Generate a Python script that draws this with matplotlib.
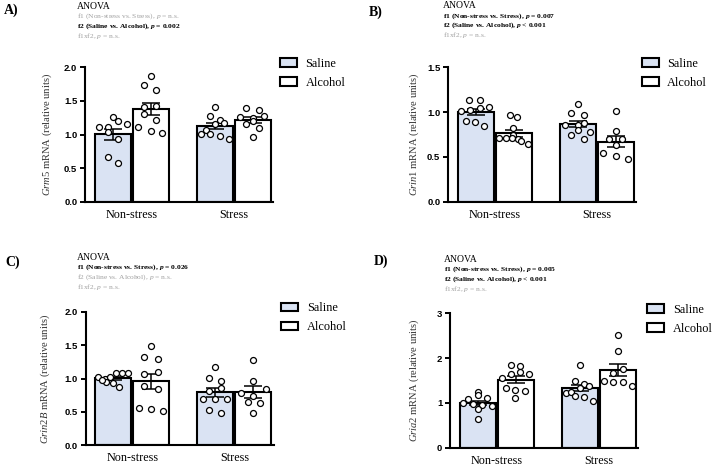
import matplotlib
matplotlib.use("Agg")
import matplotlib.pyplot as plt
import numpy as np

plt.rcParams["font.family"] = "Liberation Serif"
plt.rcParams["mathtext.fontset"] = "custom"
plt.rcParams["mathtext.rm"] = "Liberation Serif"
plt.rcParams["mathtext.it"] = "Liberation Serif:italic"
plt.rcParams["mathtext.bf"] = "Liberation Serif:bold"
plt.rcParams["mathtext.bfit"] = "Liberation Serif:italic:bold"

conditions = ["Non-stress", "Stress"]
treatments = ["Saline", "Alcohol"]

# A) Grm5
grm5_ns_saline = [1.26, 1.20, 1.11, 1.11, 1.15, 1.03, 0.93, 0.67, 0.57]
grm5_ns_alcohol = [1.87, 1.73, 1.66, 1.41, 1.43, 1.30, 1.21, 1.11, 1.05, 1.02]
grm5_s_saline = [1.41, 1.28, 1.22, 1.17, 1.15, 1.07, 1.01, 1.01, 0.98, 0.93]
grm5_s_alcohol = [1.40, 1.36, 1.26, 1.25, 1.28, 1.16, 1.20, 1.09, 0.96]

# B) Grin1
grin1_ns_saline = [1.13, 1.13, 1.01, 1.02, 1.05, 1.06, 0.90, 0.89, 0.85]
grin1_ns_alcohol = [0.97, 0.94, 0.82, 0.74, 0.71, 0.71, 0.71, 0.70, 0.68, 0.64]
grin1_s_saline = [1.09, 0.99, 0.97, 0.86, 0.86, 0.88, 0.80, 0.78, 0.75, 0.70]
grin1_s_alcohol = [1.01, 0.79, 0.70, 0.70, 0.63, 0.54, 0.51, 0.48]

# C) Grin2B
grin2b_ns_saline = [1.02, 1.00, 1.02, 1.08, 1.08, 1.08, 0.95, 0.93, 0.88, 0.98]
grin2b_ns_alcohol = [1.49, 1.32, 1.29, 1.10, 1.06, 0.89, 0.85, 0.56, 0.54, 0.51]
grin2b_s_saline = [1.17, 1.01, 0.96, 0.81, 0.86, 0.70, 0.70, 0.69, 0.53, 0.48]
grin2b_s_alcohol = [1.28, 0.97, 0.78, 0.84, 0.74, 0.65, 0.63, 0.48]

# D) Gria2
gria2_ns_saline = [1.25, 1.18, 1.08, 1.10, 1.00, 0.97, 0.95, 0.92, 0.87, 0.65]
gria2_ns_alcohol = [1.85, 1.82, 1.65, 1.68, 1.65, 1.56, 1.33, 1.28, 1.27, 1.10]
gria2_s_saline = [1.85, 1.50, 1.43, 1.38, 1.33, 1.21, 1.25, 1.15, 1.14, 1.04]
gria2_s_alcohol = [2.51, 2.16, 1.76, 1.66, 1.48, 1.47, 1.46, 1.37]

# horizontal scatter of the dots inside each bar (fraction of bar width)
grm5_dx = [
    [0.0, 0.13, -0.39, -0.14, 0.38, -0.14, 0.13, -0.14, 0.13],
    [0.0, -0.19, 0.15, -0.19, 0.15, -0.19, 0.15, -0.37, 0.0, 0.32],
    [0.0, -0.14, 0.13, 0.26, 0.0, -0.26, -0.39, -0.14, 0.13, 0.38],
    [-0.19, 0.16, -0.36, 0.0, 0.32, -0.19, 0.0, 0.16, 0.0],
]
grin1_dx = [
    [-0.18, 0.12, -0.41, -0.16, 0.11, 0.37, -0.28, -0.02, 0.23],
    [-0.12, 0.09, -0.02, -0.02, -0.42, -0.23, -0.05, 0.11, 0.2, 0.39],
    [0.0, -0.18, 0.16, -0.36, 0.0, 0.16, 0.0, 0.33, -0.18, 0.16],
    [0.0, 0.0, -0.18, 0.17, 0.0, -0.35, 0.0, 0.33],
]
grin2b_dx = [
    [-0.42, -0.24, -0.09, 0.07, 0.24, 0.41, -0.21, 0.0, 0.16, -0.33],
    [0.0, -0.2, 0.17, 0.17, -0.2, -0.2, 0.17, -0.36, 0.0, 0.32],
    [0.0, -0.18, 0.17, -0.18, 0.17, -0.35, 0.0, 0.33, -0.18, 0.17],
    [0.0, 0.0, -0.34, 0.36, 0.0, -0.15, 0.19, 0.0],
]
gria2_dx = [
    [0.0, 0.0, -0.28, 0.25, -0.41, -0.15, 0.12, 0.38, 0.0, 0.0],
    [-0.15, 0.11, -0.15, 0.11, 0.37, -0.40, -0.28, -0.02, 0.24, -0.02],
    [0.0, -0.13, 0.12, 0.24, 0.0, -0.38, -0.26, -0.13, 0.12, 0.37],
    [0.0, 0.0, 0.13, -0.14, -0.39, -0.13, 0.13, 0.38],
]

panels = [
    dict(letter="A)", gene="Grm5",
         values=[grm5_ns_saline, grm5_ns_alcohol, grm5_s_saline, grm5_s_alcohol],
         dx=grm5_dx, yticks=[0.0, 0.5, 1.0, 1.5, 2.0], fmt="{:.1f}",
         anova=[("f1 (Non-stress vs. Stress), ", "= n.s.", False),
                ("f2 (Saline vs. Alcohol), ", "= 0.002", True),
                ("f1xf2, ", "= n.s.", False)],
         box=(85, 273, 67.3, 201.7), letter_xy=(4, 10), anova_xy=(77, 6.2),
         ylab_x=-0.165, leg_x=1.037, leg_y=1.07),
    dict(letter="B)", gene="Grin1",
         values=[grin1_ns_saline, grin1_ns_alcohol, grin1_s_saline, grin1_s_alcohol],
         dx=grin1_dx, yticks=[0.0, 0.5, 1.0, 1.5], fmt="{:.1f}",
         anova=[("f1 (Non-stress vs. Stress), ", "= 0.007", True),
                ("f2 (Saline vs. Alcohol), ", "< 0.001", True),
                ("f1xf2, ", "= n.s.", False)],
         box=(448, 636, 67.3, 201.7), letter_xy=(369, 12), anova_xy=(443, 5.8),
         ylab_x=-0.144, leg_x=1.03, leg_y=1.07),
    dict(letter="C)", gene="Grin2B",
         values=[grin2b_ns_saline, grin2b_ns_alcohol, grin2b_s_saline, grin2b_s_alcohol],
         dx=grin2b_dx, yticks=[0.0, 0.5, 1.0, 1.5, 2.0], fmt="{:.1f}",
         anova=[("f1 (Non-stress vs. Stress), ", "= 0.026", True),
                ("f2 (Saline vs. Alcohol), ", "= n.s.", False),
                ("f1xf2, ", "= n.s.", False)],
         box=(85.5, 273.5, 311.7, 445.3), letter_xy=(5, 262), anova_xy=(77, 257.5),
         ylab_x=-0.178, leg_x=1.04, leg_y=1.07),
    dict(letter="D)", gene="Gria2",
         values=[gria2_ns_saline, gria2_ns_alcohol, gria2_s_saline, gria2_s_alcohol],
         dx=gria2_dx, yticks=[0, 1, 2, 3], fmt="{:.0f}",
         anova=[("f1 (Non-stress vs. Stress), ", "= 0.005", True),
                ("f2 (Saline vs. Alcohol), ", "< 0.001", True),
                ("f1xf2, ", "= n.s.", False)],
         box=(450, 638, 313.3, 447.7), letter_xy=(374, 261), anova_xy=(444, 259.2),
         ylab_x=-0.154, leg_x=1.048, leg_y=1.07),
]

W, H = 712, 467
fill_colors = ["#dae3f3", "white"]
bar_w = 0.353
offset = 0.1865
grey = "#a0a0a0"

fig = plt.figure(figsize=(W / 100, H / 100), dpi=100)

for p in panels:
    x0, x1, yt, yb = p["box"]
    ax = fig.add_axes([x0 / W, 1 - yb / H, (x1 - x0) / W, (yb - yt) / H])

    xs = []
    for c in range(2):
        xs += [c - offset, c + offset]

    for i, vals in enumerate(p["values"]):
        vals = np.array(vals)
        mean = vals.mean()
        sem = vals.std(ddof=1) / np.sqrt(len(vals))
        ax.bar(xs[i], mean, width=bar_w, color=fill_colors[i % 2],
               edgecolor="black", linewidth=1.5, zorder=2,
               label=treatments[i] if i < 2 else None)
        ax.errorbar(xs[i], mean, yerr=sem, fmt="none", ecolor="black",
                    elinewidth=1.1, capsize=6.5, capthick=1.1, zorder=3)
        px = xs[i] + np.array(p["dx"][i]) * bar_w
        ax.plot(px, vals, "o", ms=4.3, mfc="white", mec="black", mew=0.9,
                zorder=4, clip_on=False)

    ax.set_xlim(-0.461, 1.384)
    ax.set_ylim(p["yticks"][0], p["yticks"][-1])
    ax.set_xticks([0, 1])
    ax.set_xticklabels(conditions, fontsize=8.7)
    ax.tick_params(axis="x", length=0, pad=5)
    ax.set_yticks(p["yticks"])
    ax.set_yticklabels([p["fmt"].format(t) for t in p["yticks"]],
                       family="Liberation Sans", fontweight="bold", fontsize=6.8)
    ax.tick_params(axis="y", length=3.5, width=1.4, pad=2)
    for s in ["top", "right"]:
        ax.spines[s].set_visible(False)
    for s in ["left", "bottom"]:
        ax.spines[s].set_linewidth(1.5)

    ax.set_ylabel(r"$\mathit{" + p["gene"] + r"}$ mRNA (relative units)",
                  fontsize=7.6, color="#333333")
    ax.yaxis.set_label_coords(p["ylab_x"], 0.5)

    ax.legend(loc="upper left", bbox_to_anchor=(p["leg_x"], p["leg_y"]),
              frameon=False, fontsize=8.8, handlelength=1.4, handleheight=0.7,
              handletextpad=0.7, labelspacing=0.55, borderaxespad=0,
              borderpad=0)

    lx, ly = p["letter_xy"]
    fig.text(lx / W, 1 - ly / H, p["letter"], fontsize=10, fontweight="bold",
             va="center", ha="left")
    ax_x, ax_y = p["anova_xy"]
    fig.text(ax_x / W, 1 - ax_y / H, "ANOVA", fontsize=7, va="center")
    for k, (head, tail, sig) in enumerate(p["anova"]):
        yy = ax_y + 10 + k * 9.8
        if sig:
            txt = head + r"$\mathbfit{p}$ " + tail
            fig.text(ax_x / W, 1 - yy / H, txt, fontsize=5.4, fontweight="bold",
                     va="center", color="black")
        else:
            txt = head + r"$\mathit{p}$ " + tail
            fig.text(ax_x / W, 1 - yy / H, txt, fontsize=5.4, va="center",
                     color=grey)

fig.savefig("out.png", dpi=100)
